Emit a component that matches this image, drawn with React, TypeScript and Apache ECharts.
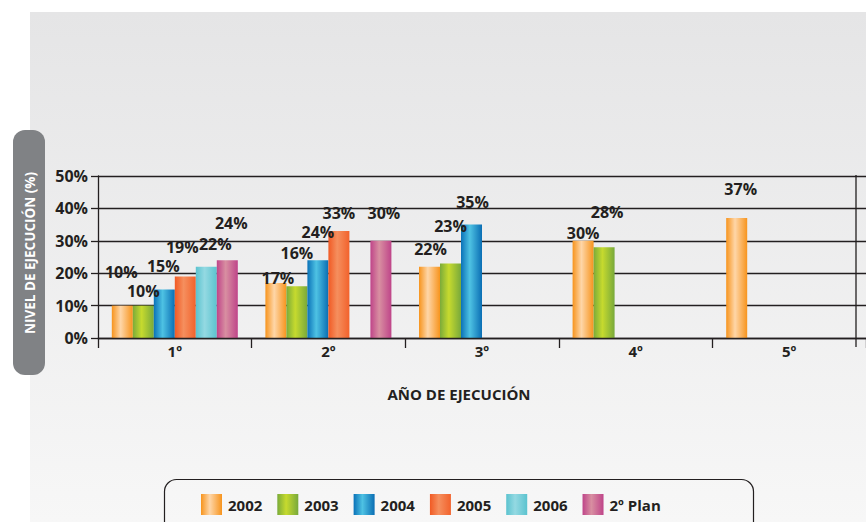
import React, { useEffect, useRef } from "react";
import * as echarts from "echarts";

const categories = ["1º", "2º", "3º", "4º", "5º"];
const seriesNames = ["2002", "2003", "2004", "2005", "2006", "2º Plan"];
const v2002 = [10, 17, 22, 30, 37];
const v2003 = [10, 16, 23, 28, null];
const v2004 = [15, 24, 35, null, null];
const v2005 = [19, 33, null, null, null];
const v2006 = [22, null, null, null, null];
const vPlan = [24, 30, null, null, null];
const yTicks = [0, 10, 20, 30, 40, 50];

const seriesValues = [v2002, v2003, v2004, v2005, v2006, vPlan];

// label nudges [dx, dy] per series / category (style only)
const labelNudge = [
  [[-1, -27], [2, 2], [1, -11], [0, -1], [4, -22]],
  [[0, -8], [0, -26], [0, -30], [3, -28], [0, 0]],
  [[-1, -16], [0, -21], [1, -16], [0, 0], [0, 0]],
  [[-3, -22], [0, -11], [0, 0], [0, 0], [0, 0]],
  [[9, -16], [0, 0], [0, 0], [0, 0], [0, 0]],
  [[4, -30], [3, -21], [0, 0], [0, 0], [0, 0]],
];

const gradStops = [
  ["#f7941d", "#fed6a8", "#f7941d"],
  ["#7aab3a", "#c6da2e", "#78a93b"],
  ["#0a72b8", "#4ec2e3", "#0a6eb4"],
  ["#f15a24", "#f58f5e", "#f2622c"],
  ["#5bc3cf", "#94d9e2", "#5bc3cf"],
  ["#bf4489", "#d88fa1", "#bf4489"],
];

const DARK = "#231f20";
const FONT = "'Open Sans', sans-serif";

function grad(c: string[]) {
  return new echarts.graphic.LinearGradient(0, 0, 1, 0, [
    { offset: 0, color: c[0] },
    { offset: 0.42, color: c[1] },
    { offset: 1, color: c[2] },
  ]);
}

export default function App() {
  const ref = useRef<HTMLDivElement>(null);
  useEffect(() => {
    if (!ref.current) return;
    const chart = echarts.init(ref.current, null, { renderer: "svg" });
    const series = seriesNames.map((name, i) => ({
      name,
      type: "bar",
      barWidth: 21,
      barGap: "0%",
      data: seriesValues[i].map((v, j) =>
        v == null
          ? null
          : {
              value: v,
              label: { offset: labelNudge[i][j] },
            }
      ),
      itemStyle: { color: grad(gradStops[i]) },
      label: {
        show: true,
        position: "top",
        distance: 0,
        formatter: "{c}%",
        fontFamily: FONT,
        fontWeight: "bold",
        fontSize: 16,
        lineHeight: 14,
        color: DARK,
      },
      z: 3,
    }));
    chart.setOption({
      animation: false,
      backgroundColor: "#ffffff",
      textStyle: { fontFamily: FONT },
      grid: { left: 98, top: 176, width: 770, height: 162, containLabel: false },
      legend: {
        left: 201,
        top: 494,
        padding: 0,
        itemWidth: 21,
        itemHeight: 21,
        itemGap: 15,
        icon: "rect",
        data: seriesNames,
        textStyle: { fontFamily: FONT, fontWeight: "bold", fontSize: 15, color: DARK, padding: [0, 0, 0, 1] },
        selectedMode: false,
      },
      xAxis: {
        type: "category",
        data: categories,
        boundaryGap: true,
        axisLine: { show: true, lineStyle: { color: DARK, width: 1.3 } },
        axisTick: { show: true, length: 10, lineStyle: { color: DARK, width: 1.3 } },
        axisLabel: { margin: 5, fontFamily: FONT, fontWeight: "bold", fontSize: 15, color: DARK },
        z: 5,
      },
      yAxis: {
        type: "value",
        min: yTicks[0],
        max: yTicks[yTicks.length - 1],
        interval: 10,
        axisLine: { show: true, lineStyle: { color: DARK, width: 1.3 } },
        axisTick: { show: true, length: 7, lineStyle: { color: DARK, width: 1.3 } },
        axisLabel: {
          margin: 10,
          formatter: "{value}%",
          fontFamily: FONT,
          fontWeight: "bold",
          fontSize: 16,
          color: DARK,
        },
        splitLine: {
          show: true,
          lineStyle: { color: DARK, width: 1.3 },
        },
      },
      graphic: [
        {
          type: "rect",
          z: -10,
          silent: true,
          shape: { x: 30, y: 12, width: 836, height: 510 },
          style: {
            fill: new echarts.graphic.LinearGradient(0, 0, 0, 1, [
              { offset: 0, color: "#e5e5e6" },
              { offset: 1, color: "#f7f7f7" },
            ]),
          },
        },
        {
          type: "rect",
          z: 10,
          shape: { x: 13, y: 130, width: 32, height: 245, r: 12 },
          style: { fill: "#808285" },
        },
        {
          type: "text",
          z: 11,
          x: 30,
          y: 253,
          rotation: Math.PI / 2,
          style: {
            text: "NIVEL DE EJECUCIÓN (%)",
            fill: "#ffffff",
            font: `bold 13.5px ${FONT}`,
            align: "center",
            verticalAlign: "middle",
          },
        },
        {
          type: "text",
          z: 11,
          x: 459,
          y: 394,
          style: {
            text: "AÑO DE EJECUCIÓN",
            fill: DARK,
            font: `bold 15px ${FONT}`,
            align: "center",
            verticalAlign: "middle",
          },
        },
        {
          type: "line",
          z: 10,
          shape: { x1: 856, y1: 175, x2: 856, y2: 347 },
          style: { stroke: DARK, lineWidth: 1.3 },
        },
        {
          type: "rect",
          z: 10,
          shape: { x: 164.5, y: 479.5, width: 589, height: 62, r: 12 },
          style: { fill: "rgba(0,0,0,0)", stroke: DARK, lineWidth: 1.2 },
        },
      ],
      series,
    });
    return () => chart.dispose();
  }, []);
  return (
    <div
      ref={ref}
      style={{ position: "fixed", left: 0, top: 0, width: 866, height: 522 }}
    />
  );
}
